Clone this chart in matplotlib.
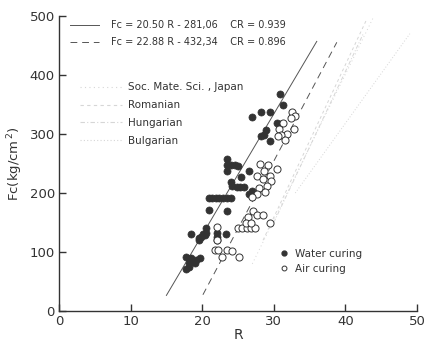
import numpy as np
import matplotlib
matplotlib.use('Agg')
import matplotlib.pyplot as plt
from matplotlib.lines import Line2D

# water curing (filled) points
water_r = [30.9, 31.3, 27.0, 28.2, 29.4, 30.4, 30.9, 28.9, 28.6, 28.2, 29.4,
           23.4, 23.4, 23.4, 24.0, 24.6, 25.0, 26.5, 25.4, 24.0,
           24.2, 24.8, 25.3, 25.8, 26.5, 26.9,
           20.9, 21.4, 21.9, 22.4, 22.9, 23.4, 24.0,
           21.0, 23.5, 20.6, 18.5,
           19.5, 19.8, 20.1, 20.4, 20.6, 19.6, 22.1, 22.1, 22.1, 23.3,
           17.8, 18.5, 19.7, 18.1, 18.2, 19.0, 17.8, 19.1]
water_fc = [368, 350, 328, 337, 337, 319, 317, 307, 299, 296, 288,
            258, 248, 238, 247, 247, 246, 238, 227, 219,
            212, 210, 210, 210, 199, 203,
            191, 191, 191, 191, 191, 191, 191,
            171, 170, 141, 131,
            120, 125, 130, 128, 133, 123, 132, 126, 120, 130,
            91, 89, 90, 75, 82, 81, 72, 87]

# air curing (open) points
air_r = [32.5, 33.0, 32.4, 31.3, 30.7, 31.9, 32.8, 31.0, 31.5, 30.6,
         28.1, 29.2, 30.4, 28.7, 27.6, 29.4, 28.5, 29.6, 29.0, 27.9, 28.8, 27.7, 26.9,
         27.1, 27.6, 28.5, 29.5, 26.4,
         25.0, 25.6, 26.2, 26.8, 27.4, 26.1, 26.8,
         22.0, 22.1, 21.8, 22.2, 22.7, 23.4, 24.2, 25.1]
air_fc = [338, 330, 327, 319, 309, 300, 309, 299, 289, 296,
          249, 247, 240, 237, 229, 229, 223, 220, 212, 208, 201, 199, 194,
          170, 162, 163, 150, 159,
          140, 140, 140, 140, 140, 150, 150,
          142, 120, 103, 103, 91, 103, 101, 91]

# regression lines (slope, intercept, R range)
fit_water = (20.50, -281.06, [15.0, 36.0])
fit_air = (22.88, -432.34, [20.1, 38.8])

# reference lines from other studies (end points)
ref_names = ['Soc. Mate. Sci. , Japan', 'Romanian', 'Hungarian', 'Bulgarian']
ref_r = [[27.0, 44.0], [28.5, 43.0], [30.0, 42.5], [33.0, 49.0]]
ref_fc = [[80, 500], [120, 495], [150, 470], [200, 470]]
ref_styles = [(0, (1, 3)), (0, (3, 3)), (0, (4, 2, 1, 2)), (0, (1, 2))]
ref_color = '#d6d6d6'

fig = plt.figure(figsize=(4.32, 3.47), dpi=100)
ax = fig.add_axes([59 / 432, 1 - 311 / 347, 358 / 432, 295 / 347])

for r, fc, ls in zip(ref_r, ref_fc, ref_styles):
    ax.plot(r, fc, color=ref_color, lw=0.7, linestyle=ls)

for (a, b, rr), ls in zip([fit_water, fit_air], ['-', (0, (7, 5))]):
    rr = np.array(rr)
    ax.plot(rr, a * rr + b, color='#555555', lw=0.7, linestyle=ls)

ax.scatter(water_r, water_fc, s=26, color='#333333', edgecolors='#333333', lw=0.5, zorder=3)
ax.scatter(air_r, air_fc, s=26, facecolors='white', edgecolors='#333333', lw=0.7, zorder=3)

ax.set_xlim(0, 50)
ax.set_ylim(0, 500)
ax.set_xticks(range(0, 51, 10))
ax.set_yticks(range(0, 501, 100))
ax.spines['top'].set_visible(False)
ax.spines['right'].set_visible(False)
for s in ['left', 'bottom']:
    ax.spines[s].set_color('#333333')
    ax.spines[s].set_linewidth(1.0)
ax.tick_params(direction='in', length=5, width=1, colors='#333333', labelsize=9.5, pad=3)
ax.set_xlabel('R', fontsize=10, color='#333333', labelpad=0)
ax.set_ylabel('Fc(kg/cm$^{\\,2}$)', fontsize=9.5, color='#333333', labelpad=3)

# legend: regression lines
fit_handles = [Line2D([], [], color='#555555', lw=0.7, linestyle='-'),
               Line2D([], [], color='#555555', lw=0.7, linestyle=(0, (7, 5)))]
fit_labels = ['Fc = 20.50 R - 281,06    CR = 0.939',
              'Fc = 22.88 R - 432,34    CR = 0.896']
leg1 = ax.legend(fit_handles, fit_labels, loc='upper left', bbox_to_anchor=(0.031, 0.985),
                 frameon=False, fontsize=7, handlelength=3.0, handletextpad=1.2,
                 labelspacing=0.7, borderpad=0, borderaxespad=0, labelcolor='#333333')
ax.add_artist(leg1)

# legend: reference lines
ref_handles = [Line2D([], [], color=ref_color, lw=0.8, linestyle=ls) for ls in ref_styles]
leg2 = ax.legend(ref_handles, ref_names, loc='upper left', bbox_to_anchor=(0.059, 0.775),
                 frameon=False, fontsize=7.5, handlelength=4.0, handletextpad=0.6,
                 labelspacing=0.75, borderpad=0, borderaxespad=0, labelcolor='#333333')
ax.add_artist(leg2)

# legend: markers
mk_handles = [Line2D([], [], marker='o', ls='none', ms=3.5, color='#333333'),
              Line2D([], [], marker='o', ls='none', ms=3.5, mfc='white', mec='#333333', mew=0.7)]
ax.legend(mk_handles, ['Water curing', 'Air curing'], loc='upper left',
          bbox_to_anchor=(0.615, 0.21), frameon=False, fontsize=7.5, handlelength=1.0,
          handletextpad=0.5, labelspacing=0.45, borderpad=0, borderaxespad=0,
          labelcolor='#333333')

fig.savefig('out.png', dpi=100)
